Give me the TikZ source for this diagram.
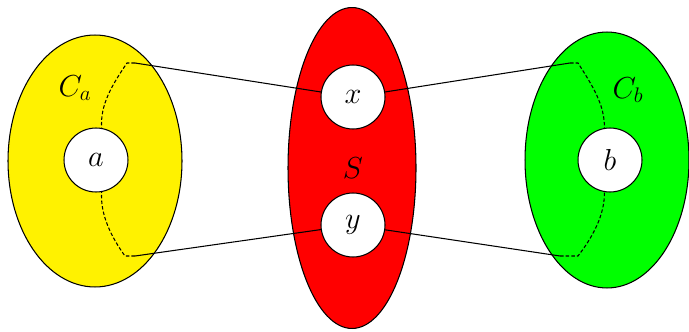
\documentclass[tikz,border=0pt]{standalone}
\usetikzlibrary{shapes.geometric, positioning}
\begin{document}
\begin{tikzpicture}[
        x=0.02cm, y=-0.02cm,
        blob/.style={ellipse, draw=black, fill=#1, line width=0.6pt, inner sep=0pt},
        vtx/.style={circle, draw=black, fill=white, line width=0.6pt, minimum size=1.28cm, inner sep=0pt, font=\LARGE},
        lbl/.style={font=\LARGE},
        link/.style={draw=black, line width=0.6pt},
        hidden/.style={link, dash pattern=on 2pt off 1.2pt}
    ]
        \useasboundingbox (0,0) rectangle (689,331);
        % the three regions
        \node[blob=yellow, minimum width=3.48cm, minimum height=5.04cm] (Ca) at (95,161) {};
        \node[blob=red, minimum width=2.56cm, minimum height=6.42cm] (S) at (352,168) {};
        \node[blob=green, minimum width=3.28cm, minimum height=5.12cm] (Cb) at (607,160) {};
        \node[lbl] (labCa) at (75,88) {$C_a$};
        \node[lbl] (labS) at (353,168) {$S$};
        \node[lbl] (labCb) at (628,90) {$C_b$};
        % vertices
        \node[vtx] (a) at (96,160) {$a$};
        \node[vtx] (x) at (353,97) {$x$};
        \node[vtx] (y) at (353,225) {$y$};
        \node[vtx] (b) at (610,160) {$b$};
        % corner points of the paths
        \coordinate (at1) at (135,63);
        \coordinate (at2) at (127,63);
        \coordinate (ab1) at (135,256);
        \coordinate (ab2) at (125,256);
        \coordinate (bt1) at (570,63);
        \coordinate (bt2) at (578,63);
        \coordinate (bb1) at (560,256);
        \coordinate (bb2) at (578,256);

        \draw[link] (x) -- (at1);
        \draw[hidden] (at1) -- (at2) .. controls (112,85) and (100,105) .. (a.80);
        \draw[link] (y) -- (ab1);
        \draw[hidden] (ab1) -- (ab2) .. controls (112,238) and (100,215) .. (a.280);
        \draw[link] (x) -- (bt1);
        \draw[hidden] (bt1) -- (bt2) .. controls (592,85) and (605,105) .. (b.100);
        \draw[link] (y) -- (bb1);
        \draw[hidden] (bb1) -- (bb2) .. controls (592,238) and (605,215) .. (b.260);
    \end{tikzpicture}
\end{document}
